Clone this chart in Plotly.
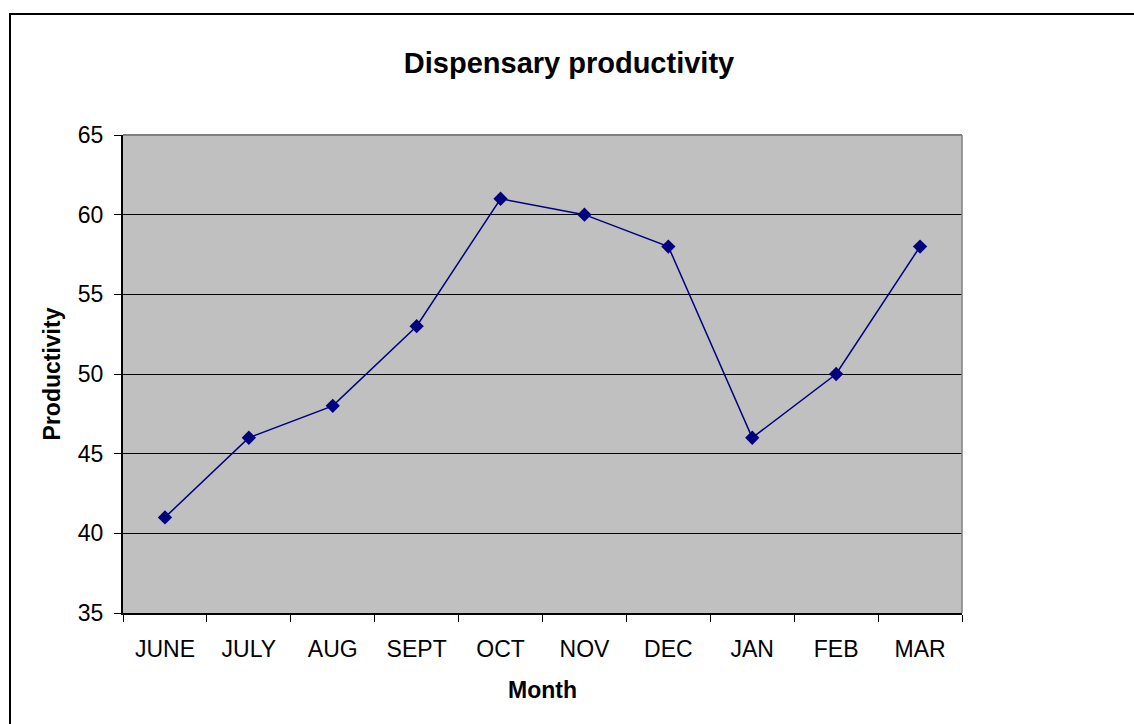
import plotly.graph_objects as go

months = ["JUNE", "JULY", "AUG", "SEPT", "OCT", "NOV", "DEC", "JAN", "FEB", "MAR"]
productivity = [41, 46, 48, 53, 61, 60, 58, 46, 50, 58]
y_ticks = [35, 40, 45, 50, 55, 60, 65]

W, H = 1134, 724
L, R, T, B = 123, 962, 135, 613

def px_x(p):
    return (p - L) / (R - L)

def px_y(p):
    return (B - p) / (B - T)

fig = go.Figure()
fig.add_trace(go.Scatter(
    x=months, y=productivity, mode="lines+markers",
    line=dict(color="#000080", width=1.5),
    marker=dict(symbol="diamond", size=11, color="#000080"),
    cliponaxis=False,
))

font = "Liberation Sans, Arial, sans-serif"
fig.update_layout(
    width=W, height=H,
    margin=dict(l=L, r=W - R, t=T, b=H - B),
    paper_bgcolor="white",
    plot_bgcolor="#C0C0C0",
    showlegend=False,
    font=dict(family=font, size=23, color="black"),
    title=dict(text="<b>Dispensary productivity</b>", x=569 / W, xref="container",
               xanchor="center", y=1 - 63 / H, yref="container", yanchor="middle",
               font=dict(size=29, family=font, color="black")),
    xaxis=dict(
        type="category", range=[-0.5, 9.5],
        showline=True, linecolor="black", linewidth=2,
        ticks="outside", ticklen=7, tickcolor="black", tickwidth=1,
        tickson="boundaries", showgrid=False,
        tickfont=dict(size=23), ticklabelstandoff=14,
        title=dict(text="<b>Month</b>", font=dict(size=23), standoff=21),
    ),
    yaxis=dict(
        range=[35, 65], tickvals=y_ticks,
        showline=True, linecolor="black", linewidth=2,
        ticks="outside", ticklen=7, tickcolor="black", tickwidth=1,
        showgrid=True, gridcolor="black", gridwidth=1, zeroline=False,
        tickfont=dict(size=23), ticklabelstandoff=6,
        title=dict(text="<b>Productivity</b>", font=dict(size=23), standoff=11),
    ),
    shapes=[
        dict(type="line", xref="paper", yref="paper", x0=0, x1=1, y0=1, y1=1,
             line=dict(color="#808080", width=2), layer="above"),
        dict(type="line", xref="paper", yref="paper", x0=1, x1=1, y0=0, y1=1,
             line=dict(color="#808080", width=1.5), layer="above"),
        dict(type="rect", xref="paper", yref="paper",
             x0=px_x(10), x1=px_x(1150), y0=px_y(740), y1=px_y(14),
             line=dict(color="black", width=2), fillcolor="rgba(0,0,0,0)", layer="above"),
    ],
)

fig.write_html("out.html")
